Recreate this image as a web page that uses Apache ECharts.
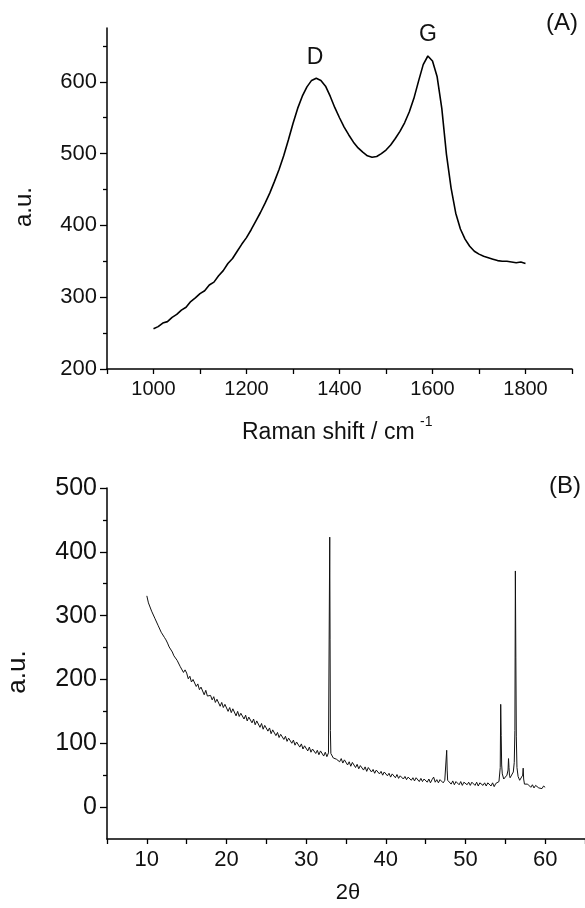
<!DOCTYPE html>
<html><head><meta charset="utf-8">
<script src="https://cdn.jsdelivr.net/npm/echarts@6/dist/echarts.min.js"></script>
<style>html,body{margin:0;padding:0;background:#fff}#c{width:585px;height:908px}</style>
</head><body><div id="c"></div>
<script>
// ---- Panel A: Raman spectrum ----
const ramanShift = [1000,1010,1020,1030,1040,1050,1060,1070,1080,1090,1100,1110,1120,1130,1140,1150,1160,1170,1180,1190,
  1200,1210,1220,1230,1240,1250,1260,1270,1280,1290,1300,1310,1320,1330,1340,1350,1360,1370,1380,1390,
  1400,1410,1420,1430,1440,1450,1460,1470,1480,1490,1500,1510,1520,1530,1540,1550,1560,1570,1580,1590,
  1600,1610,1620,1630,1640,1650,1660,1670,1680,1690,1700,1710,1720,1730,1740,1750,1760,1770,1780,1790,1800];
const ramanIntensity = [256,259,264,266,272,276,282,286,294,299,305,309,317,321,330,337,347,354,364,374,
  383,394,406,418,431,445,461,478,497,519,542,563,580,593,602,605,602,594,580,564,
  550,537,526,516,508,502,497,495,496,500,505,512,521,531,543,558,577,601,624,636,
  629,607,563,499,452,417,395,381,371,364,360,357,355,353,351,350,350,349,348,349,347];
const ramanXTicks = [900,1000,1100,1200,1300,1400,1500,1600,1700,1800,1900];
const ramanXLabels = [1000,1200,1400,1600,1800];
const ramanYTicks = [200,300,400,500,600];
const ramanYMinor = [250,350,450,550,650];

// ---- Panel B: XRD pattern ----
const xrdAngleStart = 10, xrdAngleStep = 0.2;
const xrdBaseline = [
  331,320,319,307,306, 296,297,285,286,274, 271,266,262,257,251, 248,243,237,234,230, 228,220,221,211,215,
  210,201,205,196,200, 197,189,193,184,188, 185,176,183,174,176, 175,168,173,164,169, 166,158,164,156,161,
  159,150,156,148,154, 152,143,150,142,147, 146,138,144,135,141, 140,132,138,129,135, 134,125,131,122,128,
  126,119,124,115,121, 119,112,117,109,114, 113,106,111,103,108, 107,100,105,97,102, 101,94,99,91,96,
  95,88,94,86,91, 90,84,89,82,88, 87,80,86,79,85, null,82,77,80,75, 77,71,76,69,74,
  72,66,71,64,70, 68,62,67,60,65, 64,58,63,56,62, 61,55,59,53,58, 57,52,56,50,55,
  54,49,53,47,52, 51,46,51,45,49, 49,44,48,43,47, 47,42,46,41,46, 45,40,45,40,44,
  44,39,44,38,43, 47,39,43,38,43, 42,38,42,null,41, 41,36,41,35,40, 40,35,40,34,39,
  40,35,39,34,39, 39,34,39,33,38, 39,34,38,33,38, 38,33,38,32,37, 38,40,null,null,44,
  45,50,null,46,48, 55,null,null,48,42, 44,null,36,33,36, 34,31,35,30,34, 33,30,33,29,33,
  31];
const xrdPeakAngles = [32.92,32.96,33.00,33.04,33.10, 47.58,47.64,47.70,47.76,
  54.36,54.42,54.48,54.54,54.62, 55.34,55.40,55.46,55.52,
  56.12,56.20,56.26,56.32,56.38,56.46, 57.18,57.24,57.30];
const xrdPeakCounts = [88,423,262,120,84, 44,89,58,42,
  62,161,112,66,52, 58,76,62,50,
  70,120,370,235,110,62, 50,61,44];
const xrdXTicks = [5,10,15,20,25,30,35,40,45,50,55,60,65];
const xrdXLabels = [10,20,30,40,50,60];
const xrdYTicks = [0,100,200,300,400,500];
const xrdYMinor = [50,150,250,350,450];

const ramanData = ramanShift.map((x, i) => [x, ramanIntensity[i]]);
const xrdData = [];
xrdBaseline.forEach((v, i) => {
  if (v !== null) xrdData.push([+(xrdAngleStart + i * xrdAngleStep).toFixed(2), v]);
});
xrdPeakAngles.forEach((a, i) => xrdData.push([a, xrdPeakCounts[i]]));
xrdData.sort((p, q) => p[0] - q[0]);

const FONT = 'Liberation Sans, Arial, sans-serif';
const axisLine = { show: true, onZero: false, lineStyle: { color: '#000', width: 1.5 } };
const plain = v => String(v);

function xAxis(grid, min, max, ticks, labels, fs) {
  return {
    type: 'value', gridIndex: grid, min: min, max: max, position: 'bottom',
    axisLine: axisLine, splitLine: { show: false },
    axisTick: { show: true, customValues: ticks, length: 5, lineStyle: { color: '#000', width: 1.3 } },
    axisLabel: { customValues: labels, formatter: plain, fontSize: fs, color: '#111', fontFamily: FONT, margin: 10 }
  };
}
function yAxis(grid, min, max, ticks, fs) {
  return {
    type: 'value', gridIndex: grid, min: min, max: max, position: 'left',
    axisLine: axisLine, splitLine: { show: false },
    axisTick: { show: true, customValues: ticks, length: 7, lineStyle: { color: '#000', width: 1.3 } },
    axisLabel: { customValues: ticks, formatter: plain, fontSize: fs, color: '#111', fontFamily: FONT, margin: 10 }
  };
}
function yMinor(grid, min, max, ticks) {
  return {
    type: 'value', gridIndex: grid, min: min, max: max, position: 'left',
    axisLine: { show: false }, splitLine: { show: false },
    axisTick: { show: true, customValues: ticks, length: 4, lineStyle: { color: '#000', width: 1.3 } },
    axisLabel: { show: false }
  };
}

const chart = echarts.init(document.getElementById('c'), null, { renderer: 'canvas' });
chart.setOption({
  backgroundColor: '#fff',
  animation: false,
  grid: [
    { left: 107, top: 28, width: 465, height: 341 },
    { left: 107, top: 488, width: 478, height: 351 }
  ],
  xAxis: [
    xAxis(0, 900, 1900, ramanXTicks, ramanXLabels, 20),
    xAxis(1, 5, 65, xrdXTicks, xrdXLabels, 22)
  ],
  yAxis: [
    yAxis(0, 200, 675, ramanYTicks, 22),
    yMinor(0, 200, 675, ramanYMinor),
    yAxis(1, -50, 500, xrdYTicks, 25),
    yMinor(1, -50, 500, xrdYMinor)
  ],
  series: [
    { type: 'line', xAxisIndex: 0, yAxisIndex: 0, data: ramanData, showSymbol: false,
      lineStyle: { color: '#000', width: 1.6 }, silent: true },
    { type: 'line', xAxisIndex: 1, yAxisIndex: 2, data: xrdData, showSymbol: false,
      lineStyle: { color: '#111', width: 1 }, silent: true }
  ],
  graphic: [
    { type: 'text', x: 24, y: 207, rotation: Math.PI / 2,
      style: { text: 'a.u.', font: '24px ' + FONT, fill: '#111', align: 'center', verticalAlign: 'middle' } },
    { type: 'text', x: 242, y: 433,
      style: { text: 'Raman shift / cm', font: '23px ' + FONT, fill: '#111', align: 'left', verticalAlign: 'middle' } },
    { type: 'text', x: 420, y: 422,
      style: { text: '-1', font: '14px ' + FONT, fill: '#111', align: 'left', verticalAlign: 'middle' } },
    { type: 'text', x: 562, y: 23,
      style: { text: '(A)', font: '24px ' + FONT, fill: '#111', align: 'center', verticalAlign: 'middle' } },
    { type: 'text', x: 315, y: 58,
      style: { text: 'D', font: '23px ' + FONT, fill: '#111', align: 'center', verticalAlign: 'middle' } },
    { type: 'text', x: 428, y: 35,
      style: { text: 'G', font: '23px ' + FONT, fill: '#111', align: 'center', verticalAlign: 'middle' } },
    { type: 'text', x: 565, y: 486,
      style: { text: '(B)', font: '24px ' + FONT, fill: '#111', align: 'center', verticalAlign: 'middle' } },
    { type: 'text', x: 18, y: 672, rotation: Math.PI / 2,
      style: { text: 'a.u.', font: '26px ' + FONT, fill: '#111', align: 'center', verticalAlign: 'middle' } },
    { type: 'text', x: 348, y: 893,
      style: { text: '2\u03B8', font: '22px ' + FONT, fill: '#111', align: 'center', verticalAlign: 'middle' } }
  ]
});
</script></body></html>
